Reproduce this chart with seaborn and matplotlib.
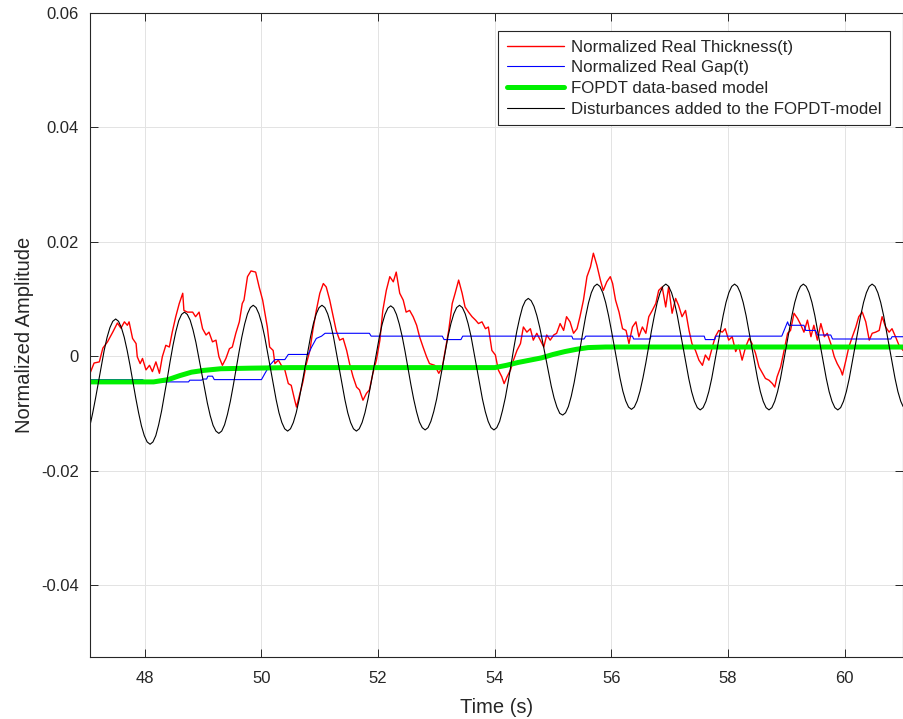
import matplotlib
matplotlib.use("Agg")
import matplotlib.pyplot as plt
import seaborn as sns
import pandas as pd

# ---------------- data ----------------
RED_T = [47.06, 47.13, 47.22, 47.28, 47.36, 47.45, 47.53, 47.59, 47.65, 47.70, 47.73, 47.79, 47.85, 47.87,
         47.92, 47.96, 48.02, 48.08, 48.13, 48.19, 48.25, 48.30, 48.36, 48.42, 48.47, 48.53, 48.59, 48.65,
         48.67, 48.73, 48.82, 48.87, 48.93, 48.99, 49.05, 49.10, 49.16, 49.22, 49.27, 49.33, 49.39, 49.45,
         49.50, 49.56, 49.62, 49.67, 49.70, 49.76, 49.82, 49.90, 49.96, 50.02, 50.06, 50.10, 50.14, 50.20,
         50.23, 50.29, 50.34, 50.40, 50.46, 50.51, 50.57, 50.60, 50.66, 50.71, 50.77, 50.83, 50.88, 50.94,
         51.00, 51.06, 51.11, 51.17, 51.23, 51.28, 51.34, 51.40, 51.46, 51.51, 51.57, 51.63, 51.68, 51.74,
         51.80, 51.85, 51.91, 51.97, 52.03, 52.08, 52.14, 52.20, 52.26, 52.31, 52.37, 52.43, 52.48, 52.54,
         52.60, 52.66, 52.71, 52.77, 52.83, 52.88, 52.97, 53.04, 53.10, 53.15, 53.21, 53.27, 53.32, 53.38,
         53.44, 53.49, 53.55, 53.61, 53.67, 53.72, 53.78, 53.84, 53.89, 53.95, 54.01, 54.06, 54.12, 54.16,
         54.21, 54.27, 54.32, 54.38, 54.44, 54.49, 54.55, 54.61, 54.66, 54.72, 54.78, 54.84, 54.89, 54.95,
         55.01, 55.06, 55.12, 55.18, 55.23, 55.29, 55.35, 55.41, 55.46, 55.52, 55.58, 55.64, 55.69, 55.75,
         55.81, 55.86, 55.92, 55.98, 56.02, 56.07, 56.13, 56.19, 56.25, 56.30, 56.36, 56.42, 56.47, 56.53,
         56.59, 56.64, 56.70, 56.76, 56.81, 56.87, 56.93, 56.98, 57.04, 57.10, 57.15, 57.21, 57.27, 57.33,
         57.38, 57.44, 57.50, 57.56, 57.61, 57.67, 57.73, 57.78, 57.84, 57.90, 57.95, 58.01, 58.07, 58.13,
         58.18, 58.24, 58.30, 58.36, 58.41, 58.47, 58.53, 58.59, 58.64, 58.70, 58.76, 58.80, 58.84, 58.90,
         58.96, 59.02, 59.07, 59.13, 59.19, 59.25, 59.30, 59.36, 59.42, 59.47, 59.53, 59.59, 59.65, 59.70,
         59.76, 59.82, 59.87, 59.93, 59.96, 60.02, 60.07, 60.13, 60.19, 60.24, 60.30, 60.36, 60.42, 60.47,
         60.53, 60.59, 60.64, 60.70, 60.76, 60.81, 60.87, 60.93, 61.00]
RED_V = [-0.0030, -0.0012, -0.0010, 0.0014, 0.0025, 0.0042, 0.0058, 0.0049, 0.0060, 0.0054, 0.0060, 0.0031, 0.0022, -0.0001,
         -0.0013, -0.0004, -0.0024, -0.0016, -0.0027, -0.0010, -0.0030, -0.0001, 0.0019, 0.0016, 0.0042, 0.0069, 0.0092, 0.0110,
         0.0080, 0.0077, 0.0077, 0.0069, 0.0077, 0.0048, 0.0037, 0.0042, 0.0025, 0.0028, -0.0001, -0.0016, -0.0004, 0.0013,
         0.0016, 0.0040, 0.0060, 0.0092, 0.0098, 0.0139, 0.0149, 0.0147, 0.0121, 0.0098, 0.0075, 0.0051, 0.0016, 0.0010,
         -0.0013, -0.0007, -0.0016, -0.0024, -0.0048, -0.0051, -0.0077, -0.0089, -0.0065, -0.0045, -0.0013, 0.0010, 0.0045, 0.0080,
         0.0110, 0.0127, 0.0121, 0.0098, 0.0069, 0.0045, 0.0028, 0.0031, 0.0010, -0.0013, -0.0036, -0.0054, -0.0059, -0.0077,
         -0.0065, -0.0059, -0.0030, -0.0007, 0.0028, 0.0080, 0.0115, 0.0139, 0.0130, 0.0147, 0.0110, 0.0098, 0.0077, 0.0080,
         0.0069, 0.0054, 0.0034, 0.0016, -0.0001, -0.0013, -0.0016, -0.0030, -0.0019, 0.0010, 0.0045, 0.0092, 0.0110, 0.0133,
         0.0110, 0.0086, 0.0077, 0.0069, 0.0063, 0.0057, 0.0060, 0.0048, 0.0051, 0.0010, 0.0002, -0.0024, -0.0036, -0.0048,
         -0.0036, -0.0024, -0.0007, 0.0010, 0.0022, 0.0051, 0.0042, 0.0048, 0.0028, 0.0040, 0.0028, 0.0016, 0.0037, 0.0028,
         0.0037, 0.0040, 0.0057, 0.0045, 0.0069, 0.0060, 0.0040, 0.0048, 0.0069, 0.0098, 0.0139, 0.0156, 0.0180, 0.0159,
         0.0133, 0.0115, 0.0130, 0.0139, 0.0127, 0.0098, 0.0077, 0.0048, 0.0045, 0.0022, 0.0051, 0.0060, 0.0034, 0.0051,
         0.0040, 0.0069, 0.0080, 0.0092, 0.0115, 0.0121, 0.0086, 0.0121, 0.0075, 0.0101, 0.0089, 0.0069, 0.0080, 0.0045,
         0.0022, 0.0010, -0.0007, -0.0016, 0.0002, -0.0007, 0.0016, 0.0034, 0.0045, 0.0042, 0.0048, 0.0028, 0.0034, 0.0008,
         0.0019, -0.0007, 0.0016, 0.0031, 0.0022, 0.0005, -0.0019, -0.0030, -0.0039, -0.0042, -0.0048, -0.0054, -0.0036, -0.0019,
         0.0010, 0.0040, 0.0045, 0.0075, 0.0066, 0.0054, 0.0042, 0.0063, 0.0034, 0.0054, 0.0028, 0.0057, 0.0034, 0.0040,
         0.0022, -0.0001, -0.0013, -0.0024, -0.0033, -0.0007, 0.0016, 0.0034, 0.0051, 0.0069, 0.0077, 0.0060, 0.0028, 0.0040,
         0.0042, 0.0045, 0.0069, 0.0051, 0.0042, 0.0048, 0.0034, 0.0019, 0.0010]

BLUE_T = [47.06, 47.96, 48.00, 48.30, 48.75, 48.77, 48.97, 49.00, 49.06, 49.08, 49.16, 49.19, 50.00, 50.06,
          50.14, 50.23, 50.40, 50.46, 50.80, 50.86, 50.94, 51.03, 51.09, 51.85, 51.88, 53.10, 53.13, 53.42,
          53.45, 55.32, 55.34, 55.53, 55.56, 56.36, 56.38, 56.66, 56.68, 57.59, 57.61, 57.77, 57.79, 58.92,
          59.02, 59.04, 59.30, 59.33, 59.50, 59.53, 59.76, 59.79, 60.79, 60.81, 61.00]
BLUE_V = [-0.0041, -0.0041, -0.0044, -0.0045, -0.0045, -0.0042, -0.0042, -0.0040, -0.0040, -0.0035, -0.0035, -0.0041, -0.0041, -0.0030,
          -0.0016, -0.0006, -0.0006, 0.0003, 0.0003, 0.0016, 0.0031, 0.0035, 0.0040, 0.0040, 0.0035, 0.0035, 0.0029, 0.0029,
          0.0035, 0.0035, 0.0030, 0.0030, 0.0035, 0.0035, 0.0030, 0.0030, 0.0035, 0.0035, 0.0029, 0.0029, 0.0035, 0.0035,
          0.0060, 0.0054, 0.0054, 0.0045, 0.0045, 0.0037, 0.0037, 0.0030, 0.0030, 0.0034, 0.0034]

GREEN_T = [47.06, 48.15, 48.40, 48.60, 48.80, 49.00, 49.30, 49.80, 50.50, 53.00, 54.00, 54.20, 54.40, 54.60,
           54.80, 55.00, 55.20, 55.40, 55.60, 55.90, 61.00]
GREEN_V = [-0.0045, -0.0045, -0.0041, -0.0034, -0.0028, -0.0025, -0.0022, -0.0021, -0.0020, -0.0020, -0.0020, -0.0016, -0.0011, -0.0007,
           -0.0003, 0.0003, 0.0008, 0.0012, 0.0015, 0.0016, 0.0016]

BLACK_T = [47.058, 47.107, 47.156, 47.205, 47.254, 47.303, 47.353, 47.402, 47.451,
           47.500, 47.549, 47.598, 47.647, 47.697, 47.746, 47.795, 47.844, 47.893, 47.942, 47.991, 48.040,
           48.090, 48.139, 48.188, 48.237, 48.287, 48.336, 48.385, 48.434, 48.483, 48.532, 48.581, 48.630,
           48.679, 48.728, 48.777, 48.826, 48.876, 48.925, 48.974, 49.023, 49.072, 49.121, 49.170, 49.219,
           49.269, 49.318, 49.367, 49.416, 49.466, 49.515, 49.564, 49.613, 49.662, 49.711, 49.760, 49.809,
           49.858, 49.907, 49.956, 50.005, 50.055, 50.104, 50.153, 50.202, 50.251, 50.300, 50.349, 50.398,
           50.448, 50.497, 50.546, 50.595, 50.645, 50.694, 50.743, 50.792, 50.841, 50.890, 50.939, 50.988,
           51.037, 51.086, 51.135, 51.184, 51.234, 51.283, 51.332, 51.381, 51.430, 51.479, 51.528, 51.577,
           51.627, 51.676, 51.725, 51.774, 51.824, 51.873, 51.922, 51.971, 52.020, 52.069, 52.118, 52.167,
           52.216, 52.265, 52.314, 52.363, 52.413, 52.462, 52.511, 52.560, 52.609, 52.658, 52.707, 52.756,
           52.806, 52.855, 52.904, 52.953, 53.003, 53.052, 53.101, 53.150, 53.199, 53.248, 53.297, 53.346,
           53.395, 53.444, 53.493, 53.542, 53.592, 53.641, 53.690, 53.739, 53.788, 53.837, 53.886, 53.935,
           53.985, 54.034, 54.083, 54.132, 54.182, 54.231, 54.280, 54.329, 54.378, 54.427, 54.476, 54.525,
           54.574, 54.623, 54.672, 54.721, 54.771, 54.820, 54.869, 54.918, 54.967, 55.016, 55.065, 55.114,
           55.164, 55.213, 55.262, 55.311, 55.361, 55.410, 55.459, 55.508, 55.557, 55.606, 55.655, 55.704,
           55.753, 55.802, 55.851, 55.900, 55.950, 55.999, 56.048, 56.097, 56.146, 56.195, 56.244, 56.293,
           56.343, 56.392, 56.441, 56.490, 56.540, 56.589, 56.638, 56.687, 56.736, 56.785, 56.834, 56.883,
           56.932, 56.981, 57.030, 57.079, 57.129, 57.178, 57.227, 57.276, 57.325, 57.374, 57.423, 57.472,
           57.522, 57.571, 57.620, 57.669, 57.719, 57.768, 57.817, 57.866, 57.915, 57.964, 58.013, 58.062,
           58.111, 58.160, 58.209, 58.258, 58.308, 58.357, 58.406, 58.455, 58.504, 58.553, 58.602, 58.651,
           58.701, 58.750, 58.799, 58.848, 58.898, 58.947, 58.996, 59.045, 59.094, 59.143, 59.192, 59.241,
           59.290, 59.339, 59.388, 59.437, 59.487, 59.536, 59.585, 59.634, 59.683, 59.732, 59.781, 59.830,
           59.880, 59.929, 59.978, 60.027, 60.077, 60.126, 60.175, 60.224, 60.273, 60.322, 60.371, 60.420,
           60.469, 60.518, 60.567, 60.616, 60.666, 60.715, 60.764, 60.813, 60.862, 60.911, 60.960, 61.000]
BLACK_V = [-0.0122, -0.0099, -0.0073, -0.0045, -0.0016, 0.0010, 0.0033, 0.0050, 0.0061,
           0.0065, 0.0061, 0.0050, 0.0033, 0.0010, -0.0016, -0.0045, -0.0073, -0.0099, -0.0122, -0.0139, -0.0150,
           -0.0154, -0.0150, -0.0139, -0.0120, -0.0096, -0.0068, -0.0039, -0.0009, 0.0019, 0.0043, 0.0062, 0.0073,
           0.0077, 0.0073, 0.0063, 0.0046, 0.0024, -0.0002, -0.0029, -0.0056, -0.0082, -0.0104, -0.0121, -0.0131,
           -0.0135, -0.0131, -0.0120, -0.0102, -0.0079, -0.0052, -0.0023, 0.0006, 0.0033, 0.0056, 0.0074, 0.0085,
           0.0089, 0.0085, 0.0074, 0.0057, 0.0034, 0.0007, -0.0021, -0.0049, -0.0076, -0.0099, -0.0116, -0.0127,
           -0.0131, -0.0127, -0.0116, -0.0099, -0.0076, -0.0049, -0.0021, 0.0007, 0.0034, 0.0057, 0.0074, 0.0085,
           0.0089, 0.0085, 0.0074, 0.0057, 0.0034, 0.0007, -0.0021, -0.0049, -0.0076, -0.0099, -0.0116, -0.0127,
           -0.0131, -0.0127, -0.0116, -0.0099, -0.0076, -0.0050, -0.0022, 0.0007, 0.0033, 0.0056, 0.0073, 0.0084,
           0.0088, 0.0084, 0.0073, 0.0056, 0.0034, 0.0008, -0.0021, -0.0049, -0.0075, -0.0097, -0.0115, -0.0125,
           -0.0129, -0.0125, -0.0114, -0.0097, -0.0075, -0.0048, -0.0020, 0.0008, 0.0035, 0.0057, 0.0074, 0.0085,
           0.0089, 0.0085, 0.0074, 0.0057, 0.0035, 0.0008, -0.0020, -0.0048, -0.0075, -0.0097, -0.0114, -0.0125,
           -0.0129, -0.0125, -0.0114, -0.0095, -0.0072, -0.0044, -0.0014, 0.0016, 0.0044, 0.0067, 0.0086, 0.0097,
           0.0101, 0.0097, 0.0087, 0.0071, 0.0050, 0.0025, -0.0001, -0.0027, -0.0052, -0.0073, -0.0089, -0.0100,
           -0.0103, -0.0099, -0.0088, -0.0070, -0.0046, -0.0018, 0.0012, 0.0041, 0.0069, 0.0093, 0.0111, 0.0122,
           0.0126, 0.0122, 0.0111, 0.0094, 0.0071, 0.0045, 0.0017, -0.0012, -0.0038, -0.0061, -0.0078, -0.0089,
           -0.0093, -0.0089, -0.0078, -0.0061, -0.0038, -0.0012, 0.0017, 0.0045, 0.0071, 0.0094, 0.0111, 0.0122,
           0.0126, 0.0122, 0.0111, 0.0094, 0.0071, 0.0044, 0.0016, -0.0012, -0.0039, -0.0062, -0.0079, -0.0090,
           -0.0094, -0.0090, -0.0079, -0.0062, -0.0039, -0.0012, 0.0016, 0.0044, 0.0071, 0.0094, 0.0111, 0.0122,
           0.0126, 0.0122, 0.0111, 0.0094, 0.0071, 0.0044, 0.0016, -0.0012, -0.0039, -0.0062, -0.0079, -0.0090,
           -0.0094, -0.0090, -0.0079, -0.0062, -0.0039, -0.0012, 0.0016, 0.0044, 0.0071, 0.0094, 0.0111, 0.0122,
           0.0126, 0.0122, 0.0111, 0.0094, 0.0071, 0.0044, 0.0016, -0.0012, -0.0039, -0.0062, -0.0079, -0.0090,
           -0.0094, -0.0090, -0.0079, -0.0062, -0.0039, -0.0012, 0.0016, 0.0044, 0.0071, 0.0094, 0.0111, 0.0122,
           0.0126, 0.0122, 0.0111, 0.0094, 0.0071, 0.0044, 0.0016, -0.0012, -0.0039, -0.0062, -0.0079, -0.0088]

SERIES_NAMES = ["Normalized Real Thickness(t)", "Normalized Real Gap(t)",
                "FOPDT data-based model", "Disturbances added to the FOPDT-model"]
X_TICKS = [48, 50, 52, 54, 56, 58, 60]
Y_TICKS = [-0.04, -0.02, 0.0, 0.02, 0.04, 0.06]
Y_TICK_LABELS = ["-0.04", "-0.02", "0", "0.02", "0.04", "0.06"]
X_LABEL = "Time (s)"
Y_LABEL = "Normalized Amplitude"

# ---------------- styling ----------------
sns.set_style("ticks")
plt.rcParams["font.family"] = ["Liberation Sans", "DejaVu Sans"]

fig = plt.figure(figsize=(9.04, 7.19), dpi=100)
ax = fig.add_axes([90 / 904, 1 - 657 / 719, 1 - 90 / 904 - 0.001, (657 - 13) / 719])

df_red = pd.DataFrame({"t": RED_T, "v": RED_V})
df_blue = pd.DataFrame({"t": BLUE_T, "v": BLUE_V})
df_green = pd.DataFrame({"t": GREEN_T, "v": GREEN_V})
df_black = pd.DataFrame({"t": BLACK_T, "v": BLACK_V})

sns.lineplot(data=df_red, x="t", y="v", ax=ax, color="#ff0000", linewidth=1.0,
             sort=False, estimator=None, label=SERIES_NAMES[0])
sns.lineplot(data=df_blue, x="t", y="v", ax=ax, color="#0000ff", linewidth=0.8,
             sort=False, estimator=None, label=SERIES_NAMES[1])
sns.lineplot(data=df_green, x="t", y="v", ax=ax, color="#00f000", linewidth=3.6,
             sort=False, estimator=None, label=SERIES_NAMES[2])
sns.lineplot(data=df_black, x="t", y="v", ax=ax, color="#000000", linewidth=0.8,
             sort=False, estimator=None, label=SERIES_NAMES[3])

ax.set_xlim(47.06, 61.0)
ax.set_ylim(-0.0526, 0.06)
ax.set_xticks(X_TICKS)
ax.set_xticklabels([str(x) for x in X_TICKS])
ax.set_yticks(Y_TICKS)
ax.set_yticklabels(Y_TICK_LABELS)

ax.grid(True, color="#e3e3e3", linewidth=0.7)
ax.set_axisbelow(True)
for s in ax.spines.values():
    s.set_color("#262626")
    s.set_linewidth(0.8)
ax.tick_params(direction="in", length=6, width=0.7, colors="#262626",
               labelsize=12, top=True, right=True, pad=8)
ax.tick_params(axis="x", pad=10)

ax.set_xlabel(X_LABEL, fontsize=14.5, color="#262626", labelpad=9)
ax.set_ylabel(Y_LABEL, fontsize=14.5, color="#262626", labelpad=5)

leg = ax.legend(loc="upper right", bbox_to_anchor=(0.984, 0.972), fontsize=12.2,
                frameon=True, fancybox=False, framealpha=1, edgecolor="#262626",
                handlelength=3.4, labelspacing=0.34, borderpad=0.5, handletextpad=0.4,
                borderaxespad=0.0)
leg.get_frame().set_linewidth(0.8)

fig.savefig("out.png", dpi=100)
